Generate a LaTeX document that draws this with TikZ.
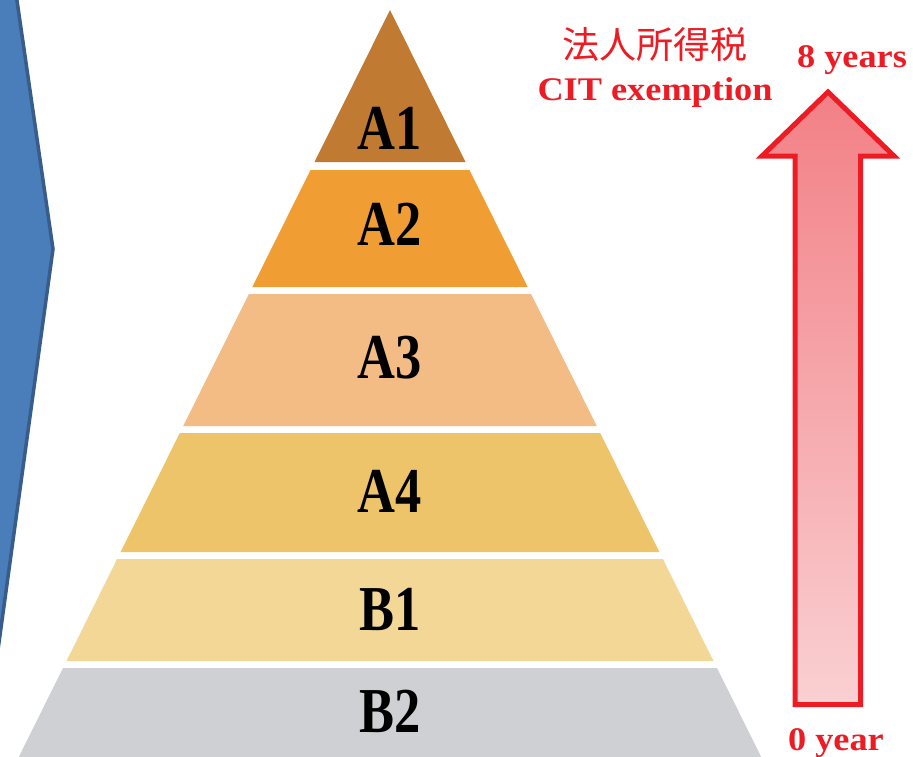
\documentclass[tikz,border=0pt]{standalone}
\usepackage{fontspec}
\setmainfont{Liberation Serif}
\newfontfamily\levelfont{Liberation Serif}[FakeStretch=0.82]
\newfontfamily\notefont{Liberation Serif}[FakeStretch=1.1]
\newfontfamily\cjkfont{Noto Sans CJK JP}

\definecolor{chevfill}{RGB}{74,126,187}
\definecolor{chevline}{RGB}{56,93,138}
\definecolor{bandAone}{RGB}{192,122,50}
\definecolor{bandAtwo}{RGB}{240,158,52}
\definecolor{bandAthree}{RGB}{242,188,132}
\definecolor{bandAfour}{RGB}{237,196,106}
\definecolor{bandBone}{RGB}{242,215,151}
\definecolor{bandBtwo}{RGB}{206,208,211}
\definecolor{citred}{RGB}{237,28,36}
\definecolor{arrowtop}{RGB}{242,128,134}
\definecolor{arrowbot}{RGB}{250,208,210}

\begin{document}
\begin{tikzpicture}[x=1pt, y=-1pt,
    level/.style={font=\levelfont\bfseries\fontsize{64}{64}\selectfont, text=black, inner sep=0pt},
    note/.style={font=\notefont\bfseries\fontsize{33}{33}\selectfont, text=citred, inner sep=0pt},
    bigarrow/.style={draw=citred, line width=5pt, miter limit=20, top color=arrowtop, bottom color=arrowbot}]
    \useasboundingbox (0,0) rectangle (913,756);
    \clip (0,0) rectangle (913,756);

    % blue chevron on the left
    \filldraw[fill=chevfill, draw=chevline, line width=3.5pt] (-20,-20) -- (14,-20) -- (53,249) -- (-3,657) -- (-20,657) -- cycle;

    % pyramid bands
    \fill[bandAone] (390,10) -- (465.5,162) -- (314.5,162) -- cycle;
    \fill[bandAtwo] (310.5,170) -- (469.5,170) -- (527.7,287) -- (252.3,287) -- cycle;
    \fill[bandAthree] (248.9,294) -- (531.1,294) -- (596.8,426) -- (183.2,426) -- cycle;
    \fill[bandAfour] (179.8,433) -- (600.2,433) -- (659.4,552) -- (120.6,552) -- cycle;
    \fill[bandBone] (117.1,559) -- (662.9,559) -- (713.5,661) -- (66.5,661) -- cycle;
    \fill[bandBtwo] (63,668) -- (717,668) -- (767.7,770) -- (12.3,770) -- cycle;

    \node[level] (a1) at (390,128) {A1};
    \node[level] (a2) at (390,224) {A2};
    \node[level] (a3) at (390,358) {A3};
    \node[level] (a4) at (390,491) {A4};
    \node[level] (b1) at (390,609) {B1};
    \node[level] (b2) at (390,711) {B2};

    % exemption arrow
    \path[bigarrow] (828,92) -- (894,156) -- (860.5,156) -- (860.5,704.5) -- (795,704.5) -- (795,156) -- (762,156) -- cycle;

    \node[font=\cjkfont\fontsize{37}{37}\selectfont, text=citred, inner sep=0pt] (tax) at (655,44) {法人所得税};
    \node[note, anchor=base] (cit) at (655,100) {CIT exemption};
    \node[note, anchor=base] (top) at (852,67) {8 years};
    \node[note, anchor=base] (bottom) at (836,750) {0 year};
\end{tikzpicture}
\end{document}
